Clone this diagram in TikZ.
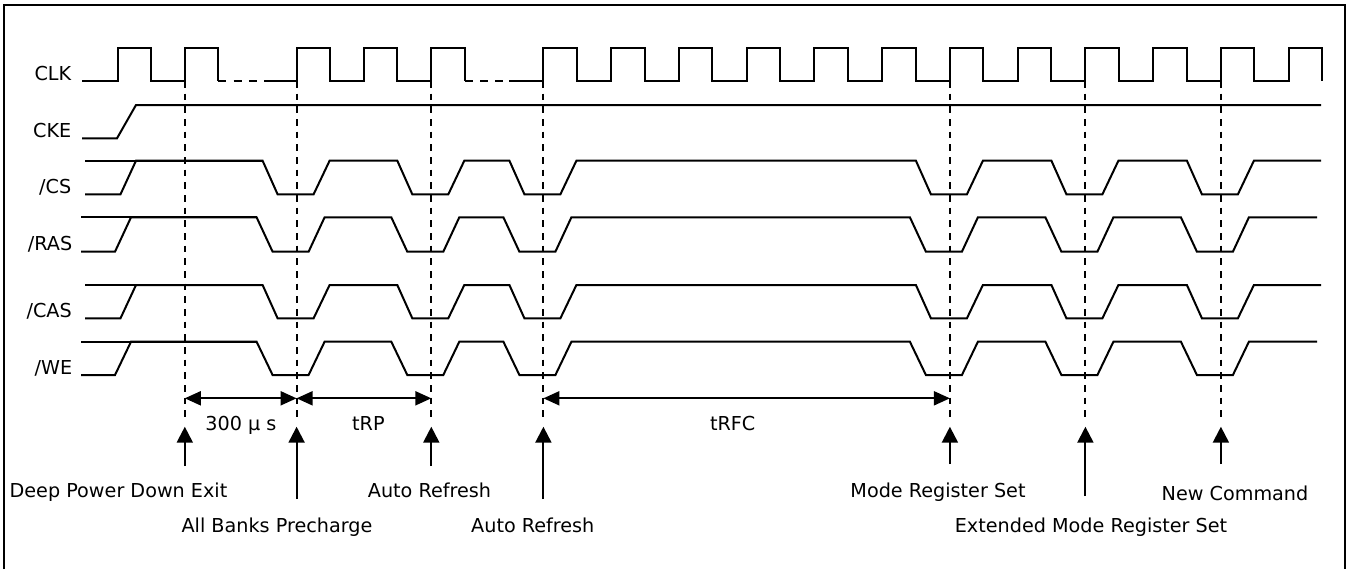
\documentclass[tikz,border=0pt]{standalone}
\usepackage{fontspec}
\setmainfont{DejaVu Sans}
\usepackage{tikz}
\usetikzlibrary{arrows.meta}

\begin{document}
\begin{tikzpicture}[x=0.75pt, y=-0.75pt]
				\tikzstyle{Frame}	= [line width=1.6pt]
				\tikzstyle{Wave}	= [line width=1.5pt, line join=miter]
				\tikzstyle{Skip}	= [line width=1.5pt, dash pattern=on 6pt off 5.5pt]
				\tikzstyle{Mark}	= [line width=1.4pt, dash pattern=on 5pt off 4.5pt]
				\tikzstyle{Dim}		= [line width=1.5pt, {Triangle[length=12pt,width=10.5pt]}-{Triangle[length=12pt,width=10.5pt]}]
				\tikzstyle{Up}		= [line width=1.6pt, -{Triangle[length=12pt,width=12pt]}]
				\tikzstyle{Signal}	= [anchor=base east, inner sep=0pt, font=\fontsize{14.4}{17}\selectfont]
				\tikzstyle{Event}	= [anchor=base, inner sep=0pt, font=\fontsize{14.4}{17}\selectfont]
				\def\edgesA{296.6,431.3,543.4,949.9,1085.4,1220.9}

				\useasboundingbox (0,0) rectangle (1351,569);
				\draw [Frame] (4,569) |- (1345.3,5) -- (1345.3,569);

				\node (clk) at (71.5,80) [Signal] {CLK};
				\node (cke) at (71.5,137.3) [Signal] {CKE};
				\node (cs) at (71.5,193.3) [Signal] {/CS};
				\node (ras) at (72.5,250.7) [Signal] {/RAS};
				\node (cas) at (72,317.3) [Signal] {/CAS};
				\node (we) at (72.5,374) [Signal] {/WE};

				\draw [Wave] (82,81) \foreach \r in {117.5,184.8} { -- (\r,81) -- (\r,48) -- (\r+33.4,48) -- (\r+33.4,81) };
				\draw [Skip] (218.2,81) -- (264,81);
				\draw [Wave] (264,81) \foreach \r in {296.6,363.6,431.3} { -- (\r,81) -- (\r,48) -- (\r+33.4,48) -- (\r+33.4,81) };
				\draw [Skip] (464.7,81) -- (509,81);
				\draw [Wave] (509,81) \foreach \r in {543.4,611.2,678.9,746.7,814.4,882.2,949.9,1017.7,1085.4,1153.2,1220.9,1288.7} { -- (\r,81) -- (\r,48) -- (\r+33.4,48) -- (\r+33.4,81) };

				\draw [Wave] (82,138.3) -- (117,138.3) -- (136,105) -- (1321,105);

				\draw [Wave] (85,160.7) -- (263,160.7);
				\draw [Wave] (85,194.3) -- (120.5,194.3) -- (136,160.7) \foreach \c in \edgesA { -- (\c-34,160.7) -- (\c-19,194.3) -- (\c+17,194.3) -- (\c+33,160.7) } -- (1321,160.7);

				\draw [Wave] (81,217.3) -- (257,217.3);
				\draw [Wave] (81,251.7) -- (115,251.7) -- (131,217.3) \foreach \c in \edgesA { -- (\c-40,217.3) -- (\c-24,251.7) -- (\c+12,251.7) -- (\c+28,217.3) } -- (1317,217.3);

				\draw [Wave] (85,285) -- (263,285);
				\draw [Wave] (85,318.3) -- (120.5,318.3) -- (136,285) \foreach \c in \edgesA { -- (\c-34,285) -- (\c-19,318.3) -- (\c+17,318.3) -- (\c+33,285) } -- (1321,285);

				\draw [Wave] (81,341.7) -- (257,341.7);
				\draw [Wave] (81,375) -- (115,375) -- (131,341.7) \foreach \c in \edgesA { -- (\c-40,341.7) -- (\c-24,375) -- (\c+12,375) -- (\c+28,341.7) } -- (1317,341.7);

				\foreach \n/\x/\f in {dpd/184.8/466, abp/296.6/499, arA/431.3/466, arB/543.4/499, mrs/949.9/464, emrs/1085.4/496, nc/1220.9/464} {
					\coordinate (\n) at (\x,81);
					\coordinate (\n-d) at (\x,398.3);
					\coordinate (\n-b) at (\x,417);
					\coordinate (\n-t) at (\x,426.7);
					\coordinate (\n-f) at (\x,\f);
					\draw [Mark] (\n) -- (\n-b);
					\draw [Up] (\n-f) -- (\n-t);
				}

				\draw [Dim] (dpd-d) -- (abp-d);
				\draw [Dim] (abp-d) -- (arA-d);
				\draw [Dim] (arB-d) -- (mrs-d);

				\node (t300) at (240.9,430.7) [Event] {300 µ s};
				\node (trp) at (368.4,430.7) [Event] {tRP};
				\node (trfc) at (732.7,430.7) [Event] {tRFC};

				\node (dpdl) at (118.5,497.5) [Event] {Deep Power Down Exit};
				\node (abpl) at (277,532.3) [Event] {All Banks Precharge};
				\node (arAl) at (429.5,497.5) [Event] {Auto Refresh};
				\node (arBl) at (532.8,532.3) [Event] {Auto Refresh};
				\node (mrsl) at (938,497.5) [Event] {Mode Register Set};
				\node (emrsl) at (1091,532.3) [Event] {Extended Mode Register Set};
				\node (ncl) at (1235,500.5) [Event] {New Command};
			\end{tikzpicture}
\end{document}
